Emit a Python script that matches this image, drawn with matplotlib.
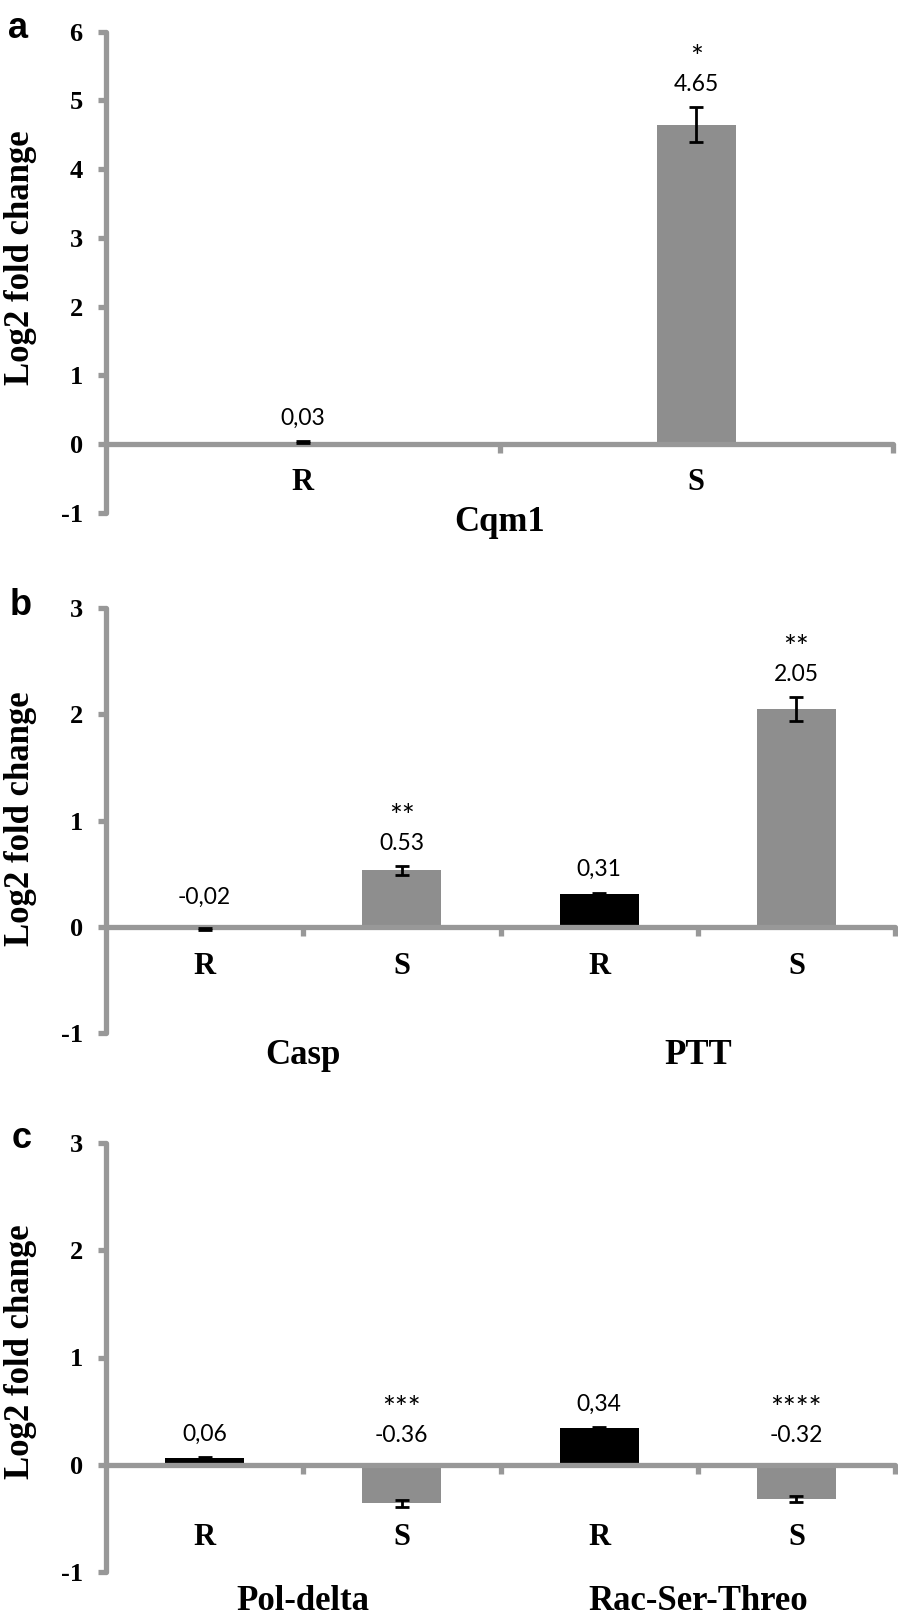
import numpy as np
import matplotlib
matplotlib.use("Agg")
import matplotlib.pyplot as plt

plt.rcParams['axes.unicode_minus'] = False

# ---------------- data ----------------
a_cats = ['R', 'S']
a_vals = [0.03, 4.65]
a_errs = [0.01, 0.25]
a_labels = ['0,03', '4.65']
a_stars = ['', '*']
a_genes = ['Cqm1']

b_cats = ['R', 'S', 'R', 'S']
b_vals = [-0.02, 0.53, 0.31, 2.05]
b_errs = [0.01, 0.04, 0.01, 0.11]
b_labels = ['-0,02', '0.53', '0,31', '2.05']
b_stars = ['', '**', '', '**']
b_genes = ['Casp', 'PTT']

c_cats = ['R', 'S', 'R', 'S']
c_vals = [0.06, -0.36, 0.34, -0.32]
c_errs = [0.01, 0.03, 0.01, 0.03]
c_labels = ['0,06', '-0.36', '0,34', '-0.32']
c_stars = ['', '***', '', '****']
c_genes = ['Pol-delta', 'Rac-Ser-Threo']

a_yticks = [-1, 0, 1, 2, 3, 4, 5, 6]
bc_yticks = [-1, 0, 1, 2, 3]

# ---------------- style ----------------
AXIS_GRAY = '#989898'
BAR_GRAY = '#8e8e8e'
COLORS = {'R': 'black', 'S': BAR_GRAY}
SERIF = 'Liberation Serif'
LABEL_FONT = 'Lato'
W, H = 898, 1620

fig = plt.figure(figsize=(W / 100, H / 100), dpi=100)


def px_rect(x0, x1, ytop, ybot):
    return [x0 / W, 1 - ybot / H, (x1 - x0) / W, (ybot - ytop) / H]


def panel(rect, cats, vals, errs, labels, stars, genes, yticks, width,
          cat_pad, gene_off, ylab_y, letter, letter_xy):
    ax = fig.add_axes(rect)
    n = len(vals)
    x = np.arange(n)
    colors = [COLORS[c] for c in cats]
    ax.bar(x, vals, width, color=colors, zorder=2, linewidth=0)
    ax.errorbar(x, vals, yerr=errs, fmt='none', ecolor='black',
                elinewidth=2.0, capsize=4.8, capthick=2.0, zorder=3)

    ax.set_xlim(-0.5, n - 0.5)
    ax.set_ylim(yticks[0], yticks[-1])

    for s in ['top', 'right']:
        ax.spines[s].set_visible(False)
    for s in ['left', 'bottom']:
        ax.spines[s].set_color(AXIS_GRAY)
        ax.spines[s].set_linewidth(3.8)
        ax.spines[s].set_capstyle('round')
    ax.spines['bottom'].set_position(('data', 0))

    # x ticks: boundaries (major) and category labels (minor)
    ax.set_xticks(np.arange(0.5, n, 1.0))
    ax.set_xticklabels([])
    ax.tick_params(axis='x', which='major', direction='out', length=6.5,
                   width=3.8, color=AXIS_GRAY)
    ax.set_xticks(x, minor=True)
    ax.set_xticklabels(cats, minor=True, fontfamily=SERIF,
                       fontweight='bold', fontsize=22)
    ax.tick_params(axis='x', which='minor', length=0, pad=cat_pad)

    ax.set_yticks(yticks)
    ax.set_yticklabels([str(t) for t in yticks], fontfamily=SERIF,
                       fontweight='bold', fontsize=19)
    ax.tick_params(axis='y', direction='out', length=5.8, width=3.8,
                   color=AXIS_GRAY, pad=11)

    ax.set_ylabel('Log2 fold change', fontfamily=SERIF, fontweight='bold',
                  fontsize=25)
    ax.yaxis.set_label_coords((37 / W - rect[0]) / rect[2], ylab_y)

    for i in range(n):
        v, e = vals[i], errs[i]
        if v > 0:
            base, off = v + e, 16.5
        else:
            base, off = 0, 21
        ax.annotate(labels[i], (x[i], base), xytext=(0, off),
                    textcoords='offset points', ha='center', va='center',
                    fontsize=16.5, fontfamily=LABEL_FONT)
        if stars[i]:
            ax.annotate(stars[i], (x[i], base), xytext=(0, off + 19),
                        textcoords='offset points', ha='center',
                        va='center', fontsize=22, fontfamily=LABEL_FONT)

    ng = len(genes)
    per = n // ng
    for g in range(ng):
        gx = g * per + (per - 1) / 2
        ax.annotate(genes[g], (gx, 0), xycoords=('data', 'axes fraction'),
                    xytext=(0, -gene_off), textcoords='offset points',
                    ha='center', va='center', fontfamily=SERIF,
                    fontweight='bold', fontsize=25)

    fig.text(letter_xy[0] / W, 1 - letter_xy[1] / H, letter,
             fontfamily='Liberation Sans', fontweight='bold', fontsize=26,
             va='baseline', ha='left')
    return ax


panel(px_rect(106, 893, 31.7, 513), a_cats, a_vals, a_errs, a_labels,
      a_stars, a_genes, a_yticks, 0.2, 17.3, 6.5, 0.53, 'a', (8, 38))
panel(px_rect(106, 895, 608, 1033), b_cats, b_vals, b_errs, b_labels,
      b_stars, b_genes, bc_yticks, 0.4, 18, 16, 0.505, 'b', (10, 615))
panel(px_rect(106, 895, 1143, 1572), c_cats, c_vals, c_errs, c_labels,
      c_stars, c_genes, bc_yticks, 0.4, 42, 21, 0.513, 'c', (12, 1148))

fig.savefig('out.png', dpi=100)
